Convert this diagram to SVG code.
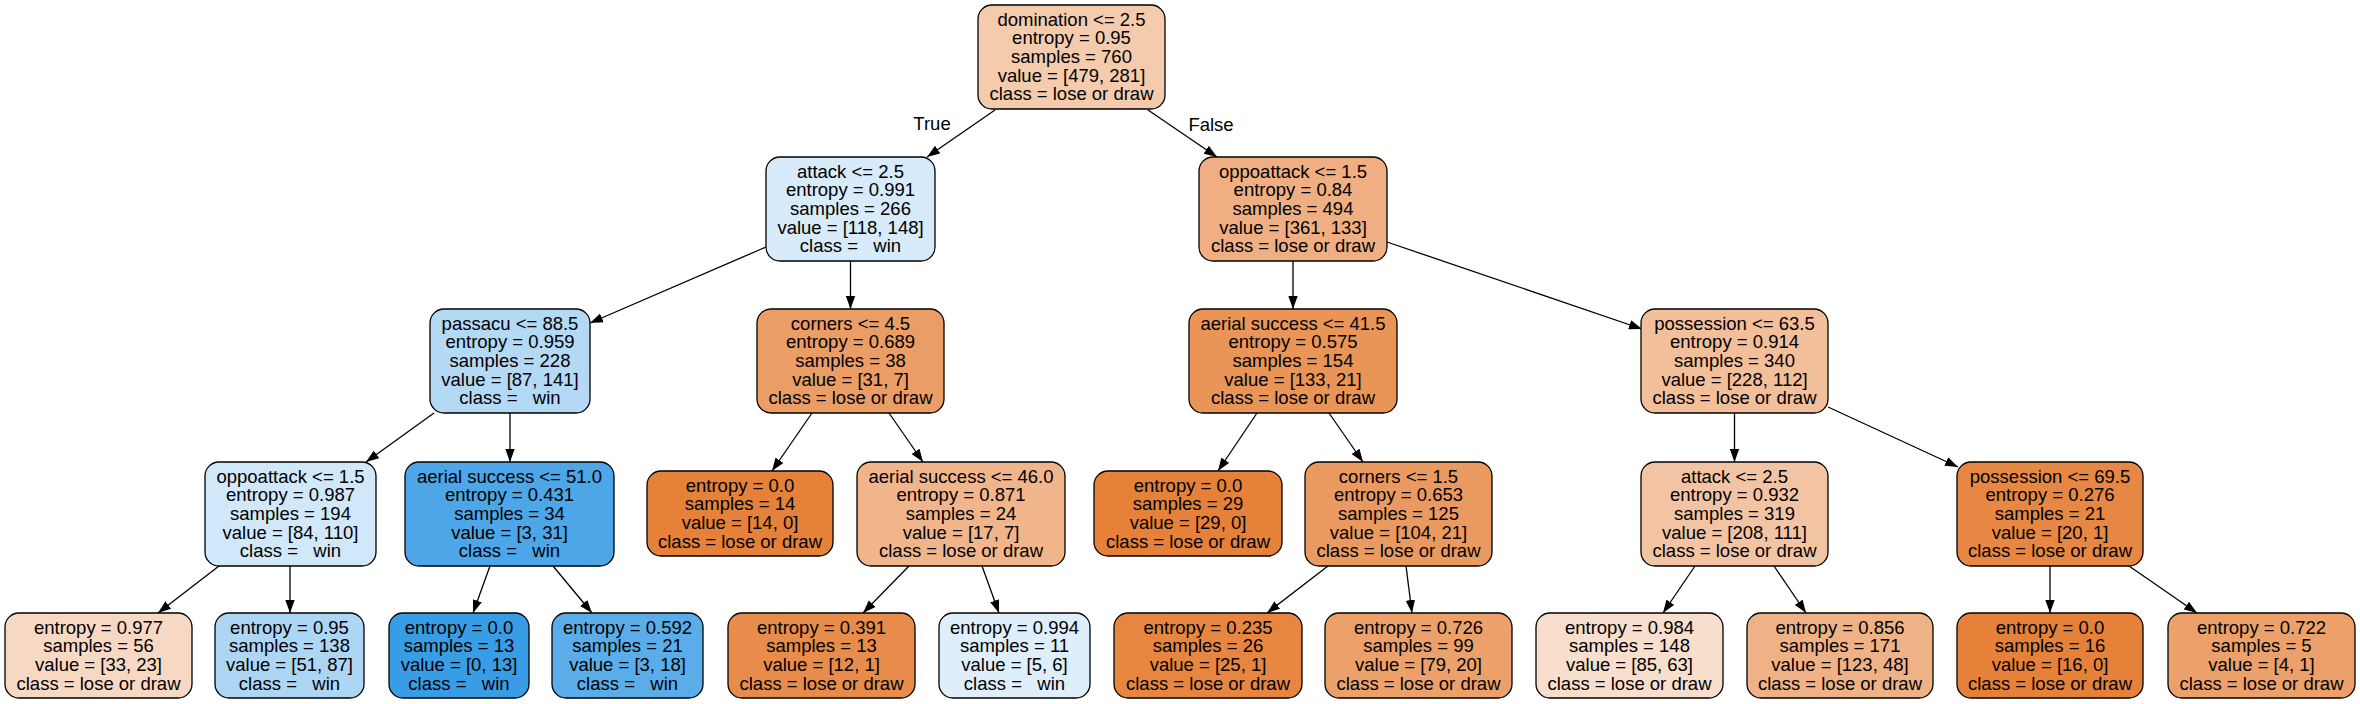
<svg xmlns="http://www.w3.org/2000/svg" width="2360" height="704" viewBox="0 0 2360 704" xml:space="preserve">
<style>
  .n rect { stroke: #000; stroke-width: 1.3; }
  text { font-family: "Liberation Sans", Helvetica, Arial, sans-serif; font-size: 18.5px; fill: #000; text-anchor: middle; white-space: pre; }
  .e line { stroke: #000; stroke-width: 1.3; fill: none; marker-end: url(#ah); }
</style>
<defs>
  <marker id="ah" markerUnits="userSpaceOnUse" markerWidth="14" markerHeight="10" refX="13" refY="5" orient="auto">
    <path d="M0,0.3 L13,5 L0,9.7 z" fill="#000"/>
  </marker>
</defs>
<rect x="0" y="0" width="2360" height="704" fill="#fff"/>

<g id="edges" class="e">
  <line x1="995" y1="110" x2="927" y2="157"/>
  <line x1="1148" y1="110" x2="1217" y2="157"/>
  <line x1="766" y1="247" x2="590" y2="323"/>
  <line x1="850.5" y1="261" x2="850.5" y2="309"/>
  <line x1="1387" y1="242" x2="1642" y2="329"/>
  <line x1="1293" y1="261" x2="1293" y2="309"/>
  <line x1="434" y1="413" x2="366" y2="462"/>
  <line x1="510" y1="413" x2="510" y2="462"/>
  <line x1="812" y1="413" x2="772" y2="471"/>
  <line x1="889" y1="413" x2="923" y2="462"/>
  <line x1="1257" y1="413" x2="1218" y2="471"/>
  <line x1="1329" y1="413" x2="1363" y2="462"/>
  <line x1="1734.5" y1="413" x2="1734.5" y2="462"/>
  <line x1="1828" y1="407" x2="1958" y2="467"/>
  <line x1="219" y1="566" x2="158" y2="613"/>
  <line x1="290" y1="566" x2="290" y2="613"/>
  <line x1="490" y1="566" x2="473" y2="613"/>
  <line x1="553" y1="566" x2="592" y2="613"/>
  <line x1="909" y1="566" x2="863" y2="613"/>
  <line x1="982" y1="566" x2="999" y2="613"/>
  <line x1="1328" y1="566" x2="1267" y2="613"/>
  <line x1="1406" y1="566" x2="1412" y2="613"/>
  <line x1="1695" y1="566" x2="1663" y2="613"/>
  <line x1="1774" y1="566" x2="1806" y2="613"/>
  <line x1="2050" y1="566" x2="2050" y2="613"/>
  <line x1="2129" y1="566" x2="2197" y2="613"/>
  <text x="932" y="130">True</text>
  <text x="1211" y="131">False</text>
</g>

<g id="n0" class="n">
  <rect x="978" y="5" width="187" height="104" rx="14" fill="#f4cbad"/>
  <text x="1071.5" y="25.6">domination &lt;= 2.5</text>
  <text x="1071.5" y="44.3">entropy = 0.95</text>
  <text x="1071.5" y="63">samples = 760</text>
  <text x="1071.5" y="81.7">value = [479, 281]</text>
  <text x="1071.5" y="100.4">class = lose or draw</text>
</g>

<g id="n1" class="n">
  <rect x="766" y="157" width="169" height="104" rx="14" fill="#d7ebfa"/>
  <text x="850.5" y="177.6">attack &lt;= 2.5</text>
  <text x="850.5" y="196.3">entropy = 0.991</text>
  <text x="850.5" y="215">samples = 266</text>
  <text x="850.5" y="233.7">value = [118, 148]</text>
  <text x="850.5" y="252.4">class =   win</text>
</g>

<g id="n2" class="n">
  <rect x="1199" y="157" width="188" height="104" rx="14" fill="#efaf82"/>
  <text x="1293" y="177.6">oppoattack &lt;= 1.5</text>
  <text x="1293" y="196.3">entropy = 0.84</text>
  <text x="1293" y="215">samples = 494</text>
  <text x="1293" y="233.7">value = [361, 133]</text>
  <text x="1293" y="252.4">class = lose or draw</text>
</g>

<g id="n3" class="n">
  <rect x="430" y="309" width="160" height="104" rx="14" fill="#b3d9f5"/>
  <text x="510" y="329.6">passacu &lt;= 88.5</text>
  <text x="510" y="348.3">entropy = 0.959</text>
  <text x="510" y="367">samples = 228</text>
  <text x="510" y="385.7">value = [87, 141]</text>
  <text x="510" y="404.4">class =   win</text>
</g>

<g id="n4" class="n">
  <rect x="757" y="309" width="187" height="104" rx="14" fill="#eb9d66"/>
  <text x="850.5" y="329.6">corners &lt;= 4.5</text>
  <text x="850.5" y="348.3">entropy = 0.689</text>
  <text x="850.5" y="367">samples = 38</text>
  <text x="850.5" y="385.7">value = [31, 7]</text>
  <text x="850.5" y="404.4">class = lose or draw</text>
</g>

<g id="n5" class="n">
  <rect x="1189" y="309" width="208" height="104" rx="14" fill="#e99558"/>
  <text x="1293" y="329.6">aerial success &lt;= 41.5</text>
  <text x="1293" y="348.3">entropy = 0.575</text>
  <text x="1293" y="367">samples = 154</text>
  <text x="1293" y="385.7">value = [133, 21]</text>
  <text x="1293" y="404.4">class = lose or draw</text>
</g>

<g id="n6" class="n">
  <rect x="1641" y="309" width="187" height="104" rx="14" fill="#f2bf9a"/>
  <text x="1734.5" y="329.6">possession &lt;= 63.5</text>
  <text x="1734.5" y="348.3">entropy = 0.914</text>
  <text x="1734.5" y="367">samples = 340</text>
  <text x="1734.5" y="385.7">value = [228, 112]</text>
  <text x="1734.5" y="404.4">class = lose or draw</text>
</g>

<g id="n7" class="n">
  <rect x="205" y="462" width="171" height="104" rx="14" fill="#d0e8f9"/>
  <text x="290.5" y="482.6">oppoattack &lt;= 1.5</text>
  <text x="290.5" y="501.3">entropy = 0.987</text>
  <text x="290.5" y="520">samples = 194</text>
  <text x="290.5" y="538.7">value = [84, 110]</text>
  <text x="290.5" y="557.4">class =   win</text>
</g>

<g id="n8" class="n">
  <rect x="405" y="462" width="209" height="104" rx="14" fill="#4ca6e8"/>
  <text x="509.5" y="482.6">aerial success &lt;= 51.0</text>
  <text x="509.5" y="501.3">entropy = 0.431</text>
  <text x="509.5" y="520">samples = 34</text>
  <text x="509.5" y="538.7">value = [3, 31]</text>
  <text x="509.5" y="557.4">class =   win</text>
</g>

<g id="n9" class="n">
  <rect x="647" y="471" width="186" height="85" rx="14" fill="#e58139"/>
  <text x="740" y="491.5">entropy = 0.0</text>
  <text x="740" y="510.2">samples = 14</text>
  <text x="740" y="528.9">value = [14, 0]</text>
  <text x="740" y="547.6">class = lose or draw</text>
</g>

<g id="n10" class="n">
  <rect x="857" y="462" width="208" height="104" rx="14" fill="#f0b58b"/>
  <text x="961" y="482.6">aerial success &lt;= 46.0</text>
  <text x="961" y="501.3">entropy = 0.871</text>
  <text x="961" y="520">samples = 24</text>
  <text x="961" y="538.7">value = [17, 7]</text>
  <text x="961" y="557.4">class = lose or draw</text>
</g>

<g id="n11" class="n">
  <rect x="1094" y="471" width="188" height="85" rx="14" fill="#e58139"/>
  <text x="1188" y="491.5">entropy = 0.0</text>
  <text x="1188" y="510.2">samples = 29</text>
  <text x="1188" y="528.9">value = [29, 0]</text>
  <text x="1188" y="547.6">class = lose or draw</text>
</g>

<g id="n12" class="n">
  <rect x="1305" y="462" width="187" height="104" rx="14" fill="#ea9a61"/>
  <text x="1398.5" y="482.6">corners &lt;= 1.5</text>
  <text x="1398.5" y="501.3">entropy = 0.653</text>
  <text x="1398.5" y="520">samples = 125</text>
  <text x="1398.5" y="538.7">value = [104, 21]</text>
  <text x="1398.5" y="557.4">class = lose or draw</text>
</g>

<g id="n13" class="n">
  <rect x="1641" y="462" width="187" height="104" rx="14" fill="#f3c4a3"/>
  <text x="1734.5" y="482.6">attack &lt;= 2.5</text>
  <text x="1734.5" y="501.3">entropy = 0.932</text>
  <text x="1734.5" y="520">samples = 319</text>
  <text x="1734.5" y="538.7">value = [208, 111]</text>
  <text x="1734.5" y="557.4">class = lose or draw</text>
</g>

<g id="n14" class="n">
  <rect x="1957" y="462" width="186" height="104" rx="14" fill="#e68743"/>
  <text x="2050" y="482.6">possession &lt;= 69.5</text>
  <text x="2050" y="501.3">entropy = 0.276</text>
  <text x="2050" y="520">samples = 21</text>
  <text x="2050" y="538.7">value = [20, 1]</text>
  <text x="2050" y="557.4">class = lose or draw</text>
</g>

<g id="n15" class="n">
  <rect x="5" y="613" width="187" height="85" rx="14" fill="#f7d9c3"/>
  <text x="98.5" y="633.5">entropy = 0.977</text>
  <text x="98.5" y="652.2">samples = 56</text>
  <text x="98.5" y="670.9">value = [33, 23]</text>
  <text x="98.5" y="689.6">class = lose or draw</text>
</g>

<g id="n16" class="n">
  <rect x="215" y="613" width="149" height="85" rx="14" fill="#add6f4"/>
  <text x="289.5" y="633.5">entropy = 0.95</text>
  <text x="289.5" y="652.2">samples = 138</text>
  <text x="289.5" y="670.9">value = [51, 87]</text>
  <text x="289.5" y="689.6">class =   win</text>
</g>

<g id="n17" class="n">
  <rect x="389" y="613" width="140" height="85" rx="14" fill="#399de5"/>
  <text x="459" y="633.5">entropy = 0.0</text>
  <text x="459" y="652.2">samples = 13</text>
  <text x="459" y="670.9">value = [0, 13]</text>
  <text x="459" y="689.6">class =   win</text>
</g>

<g id="n18" class="n">
  <rect x="552" y="613" width="151" height="85" rx="14" fill="#5aade9"/>
  <text x="627.5" y="633.5">entropy = 0.592</text>
  <text x="627.5" y="652.2">samples = 21</text>
  <text x="627.5" y="670.9">value = [3, 18]</text>
  <text x="627.5" y="689.6">class =   win</text>
</g>

<g id="n19" class="n">
  <rect x="728" y="613" width="187" height="85" rx="14" fill="#e78c4a"/>
  <text x="821.5" y="633.5">entropy = 0.391</text>
  <text x="821.5" y="652.2">samples = 13</text>
  <text x="821.5" y="670.9">value = [12, 1]</text>
  <text x="821.5" y="689.6">class = lose or draw</text>
</g>

<g id="n20" class="n">
  <rect x="939" y="613" width="151" height="85" rx="14" fill="#deeffb"/>
  <text x="1014.5" y="633.5">entropy = 0.994</text>
  <text x="1014.5" y="652.2">samples = 11</text>
  <text x="1014.5" y="670.9">value = [5, 6]</text>
  <text x="1014.5" y="689.6">class =   win</text>
</g>

<g id="n21" class="n">
  <rect x="1114" y="613" width="188" height="85" rx="14" fill="#e68641"/>
  <text x="1208" y="633.5">entropy = 0.235</text>
  <text x="1208" y="652.2">samples = 26</text>
  <text x="1208" y="670.9">value = [25, 1]</text>
  <text x="1208" y="689.6">class = lose or draw</text>
</g>

<g id="n22" class="n">
  <rect x="1325" y="613" width="187" height="85" rx="14" fill="#eca16b"/>
  <text x="1418.5" y="633.5">entropy = 0.726</text>
  <text x="1418.5" y="652.2">samples = 99</text>
  <text x="1418.5" y="670.9">value = [79, 20]</text>
  <text x="1418.5" y="689.6">class = lose or draw</text>
</g>

<g id="n23" class="n">
  <rect x="1536" y="613" width="187" height="85" rx="14" fill="#f8decc"/>
  <text x="1629.5" y="633.5">entropy = 0.984</text>
  <text x="1629.5" y="652.2">samples = 148</text>
  <text x="1629.5" y="670.9">value = [85, 63]</text>
  <text x="1629.5" y="689.6">class = lose or draw</text>
</g>

<g id="n24" class="n">
  <rect x="1747" y="613" width="186" height="85" rx="14" fill="#efb286"/>
  <text x="1840" y="633.5">entropy = 0.856</text>
  <text x="1840" y="652.2">samples = 171</text>
  <text x="1840" y="670.9">value = [123, 48]</text>
  <text x="1840" y="689.6">class = lose or draw</text>
</g>

<g id="n25" class="n">
  <rect x="1957" y="613" width="186" height="85" rx="14" fill="#e58139"/>
  <text x="2050" y="633.5">entropy = 0.0</text>
  <text x="2050" y="652.2">samples = 16</text>
  <text x="2050" y="670.9">value = [16, 0]</text>
  <text x="2050" y="689.6">class = lose or draw</text>
</g>

<g id="n26" class="n">
  <rect x="2168" y="613" width="187" height="85" rx="14" fill="#eca06a"/>
  <text x="2261.5" y="633.5">entropy = 0.722</text>
  <text x="2261.5" y="652.2">samples = 5</text>
  <text x="2261.5" y="670.9">value = [4, 1]</text>
  <text x="2261.5" y="689.6">class = lose or draw</text>
</g>
</svg>
